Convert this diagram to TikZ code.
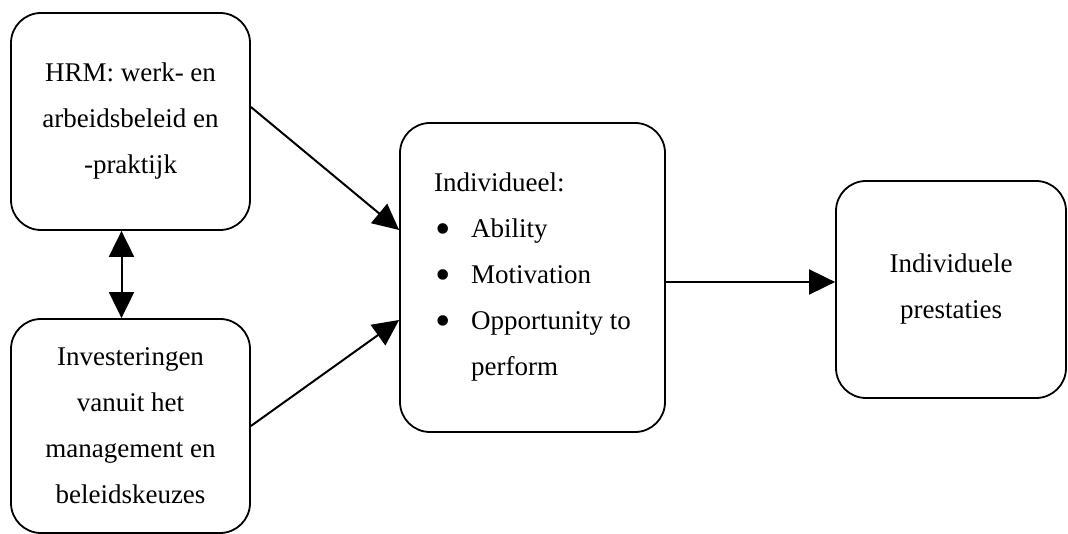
\documentclass[tikz,border=0pt]{standalone}
\usepackage{fontspec}
\setmainfont{Liberation Serif}
\usetikzlibrary{arrows.meta}
\newcommand{\bigbul}{\makebox[37pt][l]{\hspace{1pt}{\fontsize{44}{44}\selectfont\raisebox{-5.5pt}{•}}}}
\begin{document}
\begin{tikzpicture}[x=1pt,y=-1pt,
  box/.style={draw=black, line width=1.8pt, rounded corners=30pt, inner sep=0pt,
    font=\fontsize{27}{46}\selectfont},
  conn/.style={line width=2pt, -{Triangle[length=26pt,width=25pt]}},
  dconn/.style={line width=2pt, {Triangle[length=26pt,width=25pt]}-{Triangle[length=26pt,width=25pt]}}
]
\useasboundingbox (0,0) rectangle (1068,534);
\node[box, minimum width=239pt, minimum height=217pt, align=center] (b1) at (130.5,121.5)
  {HRM: werk- en\\arbeidsbeleid en\\-praktijk};
\node[box, minimum width=239pt, minimum height=214pt, align=center] (b2) at (130.5,426)
  {Investeringen\\vanuit het\\management en\\beleidskeuzes};
\node[box, minimum width=265pt, minimum height=309pt, align=left] (b3) at (532.5,277.5)
  {Individueel:\\\bigbul Ability\\\bigbul Motivation\\\bigbul Opportunity to\\\hspace*{37pt}perform};
\node[box, minimum width=230pt, minimum height=217pt, align=center] (b4) at (951,289.5)
  {Individuele\\prestaties};
\draw[conn] ([yshift=14.5pt]b1.east) -- ([yshift=47.5pt]b3.west);
\draw[conn] (b2.east) -- ([yshift=-42.5pt]b3.west);
\draw[conn] ([yshift=-4.5pt]b3.east) -- ([yshift=-4.5pt]b3.east -| b4.west);
\draw[dconn] ([xshift=-9pt]b1.south) -- ([xshift=-9pt]b2.north);
\end{tikzpicture}
\end{document}
